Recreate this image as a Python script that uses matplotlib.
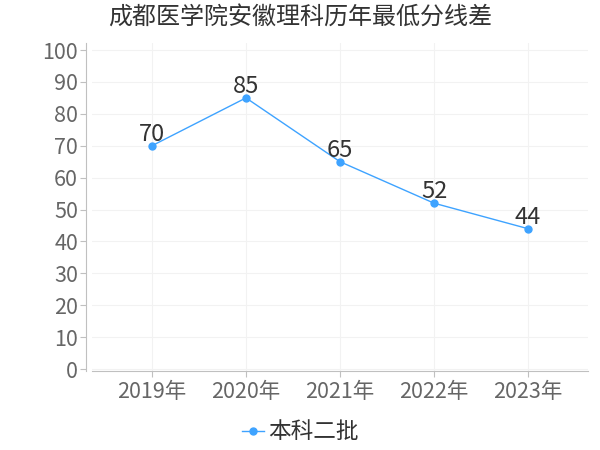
import matplotlib
matplotlib.use("Agg")
import matplotlib.pyplot as plt

plt.rcParams["font.family"] = ["Noto Sans CJK SC", "DejaVu Sans"]

title = "成都医学院安徽理科历年最低分线差"
years = ["2019年", "2020年", "2021年", "2022年", "2023年"]
values = [70, 85, 65, 52, 44]
series_name = "本科二批"
y_ticks = [0, 10, 20, 30, 40, 50, 60, 70, 80, 90, 100]

line_color = "#3ea3ff"
text_gray = "#666666"
axis_gray = "#c0c0c0"

fig = plt.figure(figsize=(6, 4.5), dpi=100)
ax = fig.add_axes([0.1533, 0.1756, 0.8267, 0.7288])

x = list(range(len(years)))
ax.plot(x, values, color=line_color, linewidth=1, marker="o", markersize=5,
        label=series_name)
for xi, v in zip(x, values):
    ax.annotate(str(v), (xi, v), xytext=(0, 0), textcoords="offset points",
                ha="center", va="bottom", fontsize=17, color="#333333")

ax.set_xlim(-0.638, len(years) - 1 + 0.638)
ax.set_ylim(-0.6, 102.2)
ax.set_xticks(x)
ax.set_xticklabels(years)
ax.set_yticks(y_ticks)

ax.grid(True, color="#f2f2f2", linewidth=0.8)
ax.set_axisbelow(True)
for side in ["top", "right"]:
    ax.spines[side].set_visible(False)
ax.spines["left"].set_position(("outward", 4))
ax.spines["left"].set_color(axis_gray)
ax.spines["bottom"].set_color(axis_gray)
ax.tick_params(axis="both", colors=axis_gray, labelcolor=text_gray, length=4)
ax.tick_params(axis="y", labelsize=15.5, pad=2)
ax.tick_params(axis="x", labelsize=15.5, pad=3)

fig.suptitle(title, x=0.5, y=0.99, fontsize=17.3, color="#333333", ha="center")

fig.legend(loc="center", bbox_to_anchor=(0.5, 0.04), frameon=False,
           fontsize=16.3, handlelength=1.0, handletextpad=0.15, labelcolor="#333333")

fig.savefig("out.png", dpi=100)
